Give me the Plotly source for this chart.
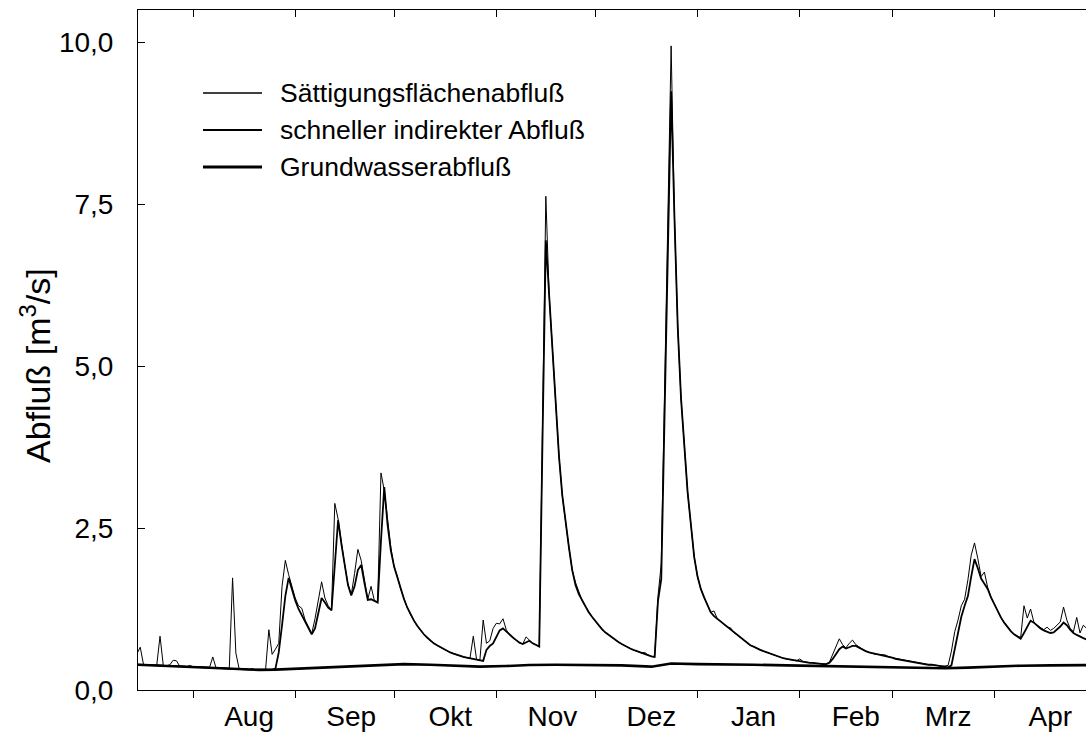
import plotly.graph_objects as go

# Daily discharge, day 0 = 1 August; series cover 15 July .. 30 April
start_day = -17

# Sättigungsflächenabfluß (thin line), one value per day, grouped by month
sat = [
    0.56, 0.66, 0.39, 0.385, 0.385, 0.38, 0.38, 0.83, 0.375, 0.375, 0.39, 0.46, 0.45, 0.365, 0.365, 0.36, 0.38,  # Jul
    0.36, 0.355, 0.355, 0.35, 0.35, 0.345, 0.51, 0.34, 0.34, 0.335, 0.335, 0.33, 1.73, 0.57, 0.325, 0.32,
    0.32, 0.315, 0.33, 0.31, 0.31, 0.31, 0.31, 0.93, 0.55, 0.63, 0.72, 1.6, 2.0, 1.78, 1.58,  # Aug
    1.42, 1.3, 1.26, 1.08, 0.97, 0.87, 1.1, 1.42, 1.67, 1.42, 1.3, 1.23, 2.88, 2.64, 2.26,
    1.93, 1.63, 1.47, 1.8, 2.17, 2.0, 1.7, 1.4, 1.6, 1.38, 1.36, 3.35, 3.08, 2.6, 2.2,  # Sep
    1.9, 1.75, 1.55, 1.4, 1.27, 1.16, 1.07, 0.99, 0.92, 0.86, 0.81, 0.76, 0.72, 0.69, 0.66, 0.63,
    0.6, 0.58, 0.56, 0.54, 0.52, 0.51, 0.5, 0.49, 0.83, 0.47, 0.46, 1.08, 0.72, 0.76, 0.95,  # Okt
    1.03, 1.02, 1.1, 0.93, 0.85, 0.81, 0.77, 0.73, 0.71, 0.82, 0.77, 0.72, 0.7, 0.67, 4.1,
    7.62, 6.1, 5.2, 4.3, 3.6, 3.0, 2.55, 2.2, 1.85, 1.66, 1.52, 1.38, 1.29, 1.2, 1.13,  # Nov
    1.06, 1.0, 0.94, 0.89, 0.85, 0.81, 0.77, 0.74, 0.71, 0.68, 0.65, 0.63, 0.61, 0.59, 0.57, 0.58,
    0.54, 0.52, 0.51, 1.44, 1.95, 4.6, 7.3, 9.94, 7.3, 5.6, 4.5, 3.7, 3.05, 2.55, 2.05,  # Dez
    1.75, 1.56, 1.43, 1.3, 1.2, 1.22, 1.1, 1.06, 1.02, 0.97, 0.96, 0.89, 0.85, 0.81, 0.77, 0.73,
    0.69, 0.67, 0.64, 0.62, 0.6, 0.58, 0.56, 0.54, 0.53, 0.51, 0.49, 0.48, 0.47, 0.46, 0.45,  # Jan
    0.48, 0.44, 0.43, 0.42, 0.42, 0.41, 0.41, 0.40, 0.40, 0.43, 0.55, 0.68, 0.79, 0.7,
    0.65, 0.72, 0.77, 0.7, 0.66, 0.63, 0.6, 0.58, 0.57, 0.55, 0.55, 0.55, 0.54, 0.51,  # Feb
    0.5, 0.48, 0.47, 0.46, 0.45, 0.44, 0.43, 0.42, 0.41, 0.40, 0.40, 0.39, 0.39, 0.38, 0.38, 0.37,
    0.37, 0.38, 0.6, 0.9, 1.08, 1.3, 1.4, 1.7, 2.08, 2.27, 2.03, 1.75, 1.82, 1.58, 1.43,  # Mrz
    1.32, 1.22, 1.12, 1.04, 0.97, 0.91, 0.86, 0.84, 0.81, 1.3, 1.11, 1.25, 1.05, 1.0, 0.96,
    0.93, 0.97, 0.92, 0.95, 1.0, 1.05, 1.28, 1.08, 0.95, 0.9, 1.12, 0.88, 1.0, 0.95, 0.9,  # Apr
]

# schneller indirekter Abfluß (medium line)
fast = [
    0.39, 0.39, 0.39, 0.385, 0.385, 0.38, 0.38, 0.38, 0.375, 0.375, 0.37, 0.37, 0.37, 0.365, 0.365, 0.36, 0.36,  # Jul
    0.36, 0.355, 0.355, 0.35, 0.35, 0.345, 0.345, 0.34, 0.34, 0.335, 0.335, 0.33, 0.33, 0.325, 0.325, 0.32,
    0.32, 0.315, 0.315, 0.31, 0.31, 0.31, 0.31, 0.315, 0.315, 0.33, 0.58, 1.0, 1.45, 1.73, 1.55,  # Aug
    1.38, 1.25, 1.15, 1.05, 0.96, 0.86, 0.95, 1.2, 1.42, 1.35, 1.27, 1.23, 1.95, 2.62, 2.25,
    1.92, 1.62, 1.46, 1.6, 1.85, 1.93, 1.65, 1.39, 1.4, 1.37, 1.35, 2.3, 3.13, 2.55, 2.15,  # Sep
    1.9, 1.72, 1.55, 1.4, 1.27, 1.16, 1.07, 0.99, 0.92, 0.86, 0.81, 0.76, 0.72, 0.69, 0.66, 0.63,
    0.6, 0.58, 0.56, 0.54, 0.52, 0.51, 0.5, 0.49, 0.48, 0.47, 0.46, 0.45, 0.62, 0.68, 0.72,  # Okt
    0.82, 0.92, 0.95, 0.9, 0.85, 0.81, 0.77, 0.73, 0.71, 0.74, 0.76, 0.72, 0.7, 0.67, 3.9,
    6.94, 6.1, 5.2, 4.3, 3.6, 3.0, 2.55, 2.2, 1.85, 1.62, 1.48, 1.38, 1.29, 1.2, 1.13,  # Nov
    1.06, 1.0, 0.94, 0.89, 0.85, 0.81, 0.77, 0.74, 0.71, 0.68, 0.65, 0.63, 0.61, 0.59, 0.57, 0.55,
    0.54, 0.52, 0.51, 1.37, 1.71, 4.2, 6.7, 9.24, 7.3, 5.6, 4.5, 3.7, 3.05, 2.55, 2.05,  # Dez
    1.75, 1.56, 1.43, 1.3, 1.2, 1.14, 1.1, 1.06, 1.02, 0.97, 0.93, 0.89, 0.85, 0.81, 0.77, 0.73,
    0.69, 0.67, 0.64, 0.62, 0.6, 0.58, 0.56, 0.54, 0.53, 0.51, 0.49, 0.48, 0.47, 0.46, 0.45,  # Jan
    0.44, 0.44, 0.43, 0.42, 0.42, 0.41, 0.41, 0.40, 0.40, 0.42, 0.48, 0.56, 0.63, 0.67,
    0.64, 0.66, 0.68, 0.68, 0.65, 0.63, 0.6, 0.58, 0.57, 0.55, 0.54, 0.54, 0.53, 0.51,  # Feb
    0.5, 0.48, 0.47, 0.46, 0.45, 0.44, 0.43, 0.42, 0.41, 0.40, 0.40, 0.39, 0.39, 0.38, 0.38, 0.37,
    0.36, 0.35, 0.38, 0.65, 0.92, 1.13, 1.3, 1.45, 1.75, 2.02, 1.88, 1.72, 1.64, 1.56, 1.43,  # Mrz
    1.32, 1.22, 1.12, 1.04, 0.97, 0.91, 0.86, 0.82, 0.79, 0.88, 0.98, 1.07, 1.04, 0.99, 0.95,
    0.92, 0.9, 0.88, 0.89, 0.93, 0.98, 1.04, 1.0, 0.93, 0.88, 0.85, 0.82, 0.8, 0.78, 0.77,  # Apr
]

# Grundwasserabfluß (thick line), slowly varying base flow
gw_day = [-17, -10, 0, 10, 20, 25, 30, 41, 50, 64, 72, 80, 87, 95, 102, 110, 121, 130,
          139, 145, 153, 161, 170, 180, 192, 200, 208, 214, 221, 228, 235, 243, 251, 260, 272]
gw_val = [0.39, 0.375, 0.36, 0.335, 0.31, 0.315, 0.325, 0.35, 0.37, 0.40, 0.39, 0.375, 0.36, 0.37,
          0.385, 0.39, 0.39, 0.38, 0.36, 0.41, 0.40, 0.40, 0.39, 0.38, 0.37, 0.36, 0.35, 0.35,
          0.34, 0.335, 0.345, 0.36, 0.375, 0.38, 0.385]

series_names = ["Sättigungsflächenabfluß", "schneller indirekter Abfluß", "Grundwasserabfluß"]
series_widths = [1.0, 1.8, 2.6]

month_names = ["Aug", "Sep", "Okt", "Nov", "Dez", "Jan", "Feb", "Mrz", "Apr"]
month_start = [0, 31, 61, 92, 122, 153, 184, 212, 243]
label_day = [17, 48, 78, 109, 139, 170, 201, 229, 260]

y_ticks = [0, 2.5, 5, 7.5, 10]
y_tick_text = ["0,0", "2,5", "5,0", "7,5", "10,0"]

days = list(range(start_day, start_day + len(sat)))
assert len(sat) == len(fast) == len(days)

FONT = "Liberation Sans, Arial, Helvetica, sans-serif"
W, H = 1086, 745
ML, MR, MT, MB = 138, 0, 10, 55
X_RANGE = [-16.68, 270.81]
Y_RANGE = [0, 10.494]

fig = go.Figure()
fig.add_trace(go.Scatter(x=gw_day, y=gw_val, mode="lines", name=series_names[2],
                         line=dict(color="black", width=series_widths[2]), showlegend=False))
fig.add_trace(go.Scatter(x=days, y=fast, mode="lines", name=series_names[1],
                         line=dict(color="black", width=series_widths[1]), showlegend=False))
fig.add_trace(go.Scatter(x=days, y=sat, mode="lines", name=series_names[0],
                         line=dict(color="black", width=series_widths[0]), showlegend=False))
# empty traces that carry the month-label axis and the top frame axis
fig.add_trace(go.Scatter(x=label_day, y=[None] * len(label_day), xaxis="x2",
                         showlegend=False, hoverinfo="skip"))
fig.add_trace(go.Scatter(x=month_start, y=[None] * len(month_start), xaxis="x3",
                         showlegend=False, hoverinfo="skip"))

common_x = dict(range=X_RANGE, showgrid=False, zeroline=False, fixedrange=True)

fig.update_layout(
    width=W, height=H,
    margin=dict(l=ML, r=MR, t=MT, b=MB, pad=0),
    paper_bgcolor="white", plot_bgcolor="white",
    font=dict(family=FONT, color="black", size=28),
    xaxis=dict(**common_x, tickmode="array", tickvals=month_start, showticklabels=False,
               ticks="outside", ticklen=7, tickwidth=1, tickcolor="black",
               showline=True, linecolor="black", linewidth=1),
    xaxis2=dict(**common_x, overlaying="x", anchor="y", side="bottom",
                tickmode="array", tickvals=label_day, ticktext=month_names,
                ticks="", showline=False, ticklabelstandoff=7,
                tickfont=dict(family=FONT, size=28, color="black")),
    xaxis3=dict(**common_x, overlaying="x", anchor="y", side="top",
                tickmode="array", tickvals=month_start, showticklabels=False,
                ticks="inside", ticklen=7, tickwidth=1, tickcolor="black",
                showline=True, linecolor="black", linewidth=1),
    yaxis=dict(range=Y_RANGE, showgrid=False, zeroline=False, fixedrange=True,
               tickmode="array", tickvals=y_ticks, ticktext=y_tick_text,
               ticks="inside", ticklen=7, tickwidth=1, tickcolor="black",
               showline=True, linecolor="black", linewidth=1, mirror=False,
               ticklabelstandoff=18,
               tickfont=dict(family=FONT, size=28, color="black")),
    showlegend=False,
)

# y-axis title
plot_w = W - ML - MR
plot_h = H - MT - MB
def px_to_paper(px, py):
    return (px - ML) / plot_w, (H - MB - py) / plot_h

tx, ty = px_to_paper(35, 366)
fig.add_annotation(x=tx, y=ty, xref="paper", yref="paper", showarrow=False,
                   text="Abfluß [m<sup>3</sup>/s]", textangle=-90,
                   xanchor="center", yanchor="middle",
                   font=dict(family=FONT, size=34, color="black"))

# legend drawn as line samples with labels
legend_rows_y = [93, 130, 167]
for name, width, row_y in zip(series_names, series_widths, legend_rows_y):
    x0, y0 = px_to_paper(203, row_y)
    x1, _ = px_to_paper(262, row_y)
    fig.add_shape(type="line", xref="paper", yref="paper", x0=x0, x1=x1, y0=y0, y1=y0,
                  line=dict(color="black", width=width + 0.4))
    lx, ly = px_to_paper(278, row_y)
    fig.add_annotation(x=lx, y=ly, xref="paper", yref="paper", showarrow=False,
                       text=name, xanchor="left", yanchor="middle",
                       font=dict(family=FONT, size=26.5, color="black"))

fig.write_html("out.html")
